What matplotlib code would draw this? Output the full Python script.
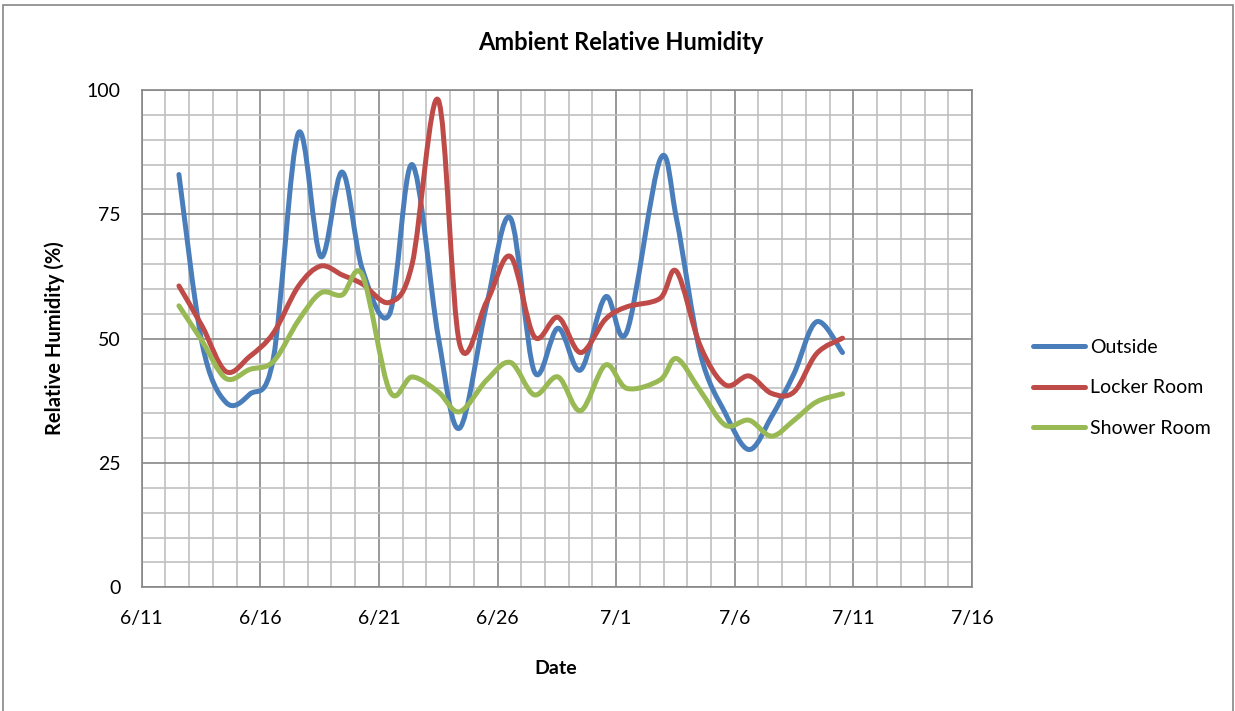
import matplotlib
matplotlib.use('Agg')
import matplotlib.pyplot as plt
import matplotlib.dates as mdates
from matplotlib.path import Path
from matplotlib.patches import PathPatch, Rectangle
from matplotlib.lines import Line2D
from matplotlib.ticker import MultipleLocator
import numpy as np
import pandas as pd

plt.rcParams['font.family'] = ['Lato', 'DejaVu Sans']

# reading times (irregular, roughly midday)
times = pd.to_datetime([
    '2013-06-12 13:40', '2013-06-13 13:10', '2013-06-14 13:10', '2013-06-15 13:10',
    '2013-06-16 13:10', '2013-06-17 14:25', '2013-06-18 13:10', '2013-06-19 10:50',
    '2013-06-20 07:10', '2013-06-21 10:50', '2013-06-22 09:35', '2013-06-23 12:00',
    '2013-06-24 09:35', '2013-06-25 13:10', '2013-06-26 13:10', '2013-06-27 13:10',
    '2013-06-28 13:10', '2013-06-29 12:00', '2013-06-30 13:10', '2013-07-01 10:50',
    '2013-07-02 20:25', '2013-07-03 13:10', '2013-07-04 13:10', '2013-07-05 14:25',
    '2013-07-06 14:25', '2013-07-07 13:10', '2013-07-08 12:00', '2013-07-09 10:50',
    '2013-07-10 13:00',
])
outside = [83, 49, 37.2, 38.8, 46, 91.3, 66.5, 83.5, 64, 55, 85, 50.4, 32, 57, 74.2,
           43.4, 52.1, 43.7, 58.4, 51.4, 86, 74, 47, 35, 27.7, 34.3, 43, 53.4, 47.2]
locker = [60.6, 52.5, 43.4, 46.4, 51.1, 60.5, 64.6, 62.8, 61, 57.3, 65, 98, 49, 57.5, 66.5,
          50.4, 54.3, 47.2, 53.9, 56.4, 58.1, 63.5, 48.5, 40.7, 42.5, 39, 39.3, 47, 50.1]
shower = [56.6, 49.5, 42, 43.8, 45.4, 53.6, 59.2, 58.8, 62.8, 39.5, 42.3, 39.3, 35.3, 41.7, 45.2,
          38.7, 42.3, 35.5, 44.7, 40, 41.7, 46, 39.5, 32.6, 33.6, 30.4, 33.6, 37.3, 38.9]

series = [('Outside', outside, '#4a7ebb'),
          ('Locker Room', locker, '#be4b48'),
          ('Shower Room', shower, '#98b954')]


def smooth_path(x, y):
    # Excel-style smoothed line: cubic bezier through every point
    pts = np.column_stack([x, y])
    p = np.vstack([pts[0], pts, pts[-1]])
    verts, codes = [pts[0]], [Path.MOVETO]
    for i in range(1, len(p) - 2):
        c1 = p[i] + (p[i + 1] - p[i - 1]) / 6
        c2 = p[i + 1] - (p[i + 2] - p[i]) / 6
        verts += [c1, c2, p[i + 1]]
        codes += [Path.CURVE4] * 3
    return Path(verts, codes)


fig = plt.figure(figsize=(12.35, 7.11), dpi=100)
ax = fig.add_axes([141.7 / 1235, 1 - 587.3 / 711, (972 - 141.7) / 1235, (587.3 - 90) / 711])

xnum = mdates.date2num(times)
handles = []
for name, vals, c in series:
    patch = PathPatch(smooth_path(xnum, np.asarray(vals, float)), fill=False, edgecolor=c,
                      lw=3.6, capstyle='round', joinstyle='round', zorder=3)
    ax.add_patch(patch)
    handles.append(Line2D([], [], color=c, lw=3.6, solid_capstyle='round', label=name))

x0, x1 = pd.Timestamp('2013-06-11'), pd.Timestamp('2013-07-16')
ax.set_xlim(x0, x1)
ax.set_ylim(0, 100)
ax.xaxis.set_major_locator(mdates.DayLocator(bymonthday=[1, 6, 11, 16, 21, 26]))
ax.xaxis.set_minor_locator(mdates.DayLocator())
ax.xaxis.set_major_formatter(plt.FuncFormatter(lambda v, p: f'{mdates.num2date(v).month}/{mdates.num2date(v).day}'))
ax.yaxis.set_major_locator(MultipleLocator(25))
ax.yaxis.set_minor_locator(MultipleLocator(5))

ax.grid(which='major', color='#878787', lw=1.2, zorder=1)
ax.grid(which='minor', color='#c0c0c0', lw=1.2, zorder=0)
ax.set_axisbelow(True)
for s in ax.spines.values():
    s.set_color('#878787')
    s.set_linewidth(1.2)
ax.tick_params(which='both', length=0)
ax.tick_params(axis='x', labelsize=14, pad=16)
ax.tick_params(axis='y', labelsize=14, pad=15)

ax.set_xlabel('Date', fontsize=14, fontweight='bold', va='center')
ax.set_ylabel('Relative Humidity (%)', fontsize=14.5, fontweight='bold', va='center')
ax.xaxis.set_label_coords((556 - 141.7) / 830.3, (587.3 - 668) / 497.3)
ax.yaxis.set_label_coords((55 - 141.7) / 830.3, (587.3 - 338) / 497.3)
fig.text(621 / 1235, 1 - 42 / 711, 'Ambient Relative Humidity', ha='center', va='center',
         fontsize=17, fontweight='bold')

fig.legend(handles=handles, loc='center left', bbox_to_anchor=(1015 / 1235, 1 - 388 / 711),
           frameon=False, fontsize=14, handlelength=2.7, handletextpad=0.25, labelspacing=1.2)

fig.patches.append(Rectangle((3 / 1235, -0.05), 1230 / 1235, 1.05 - 5 / 711, transform=fig.transFigure,
                             fill=False, edgecolor='#868686', lw=1.2))

fig.savefig('out.png', dpi=100)
